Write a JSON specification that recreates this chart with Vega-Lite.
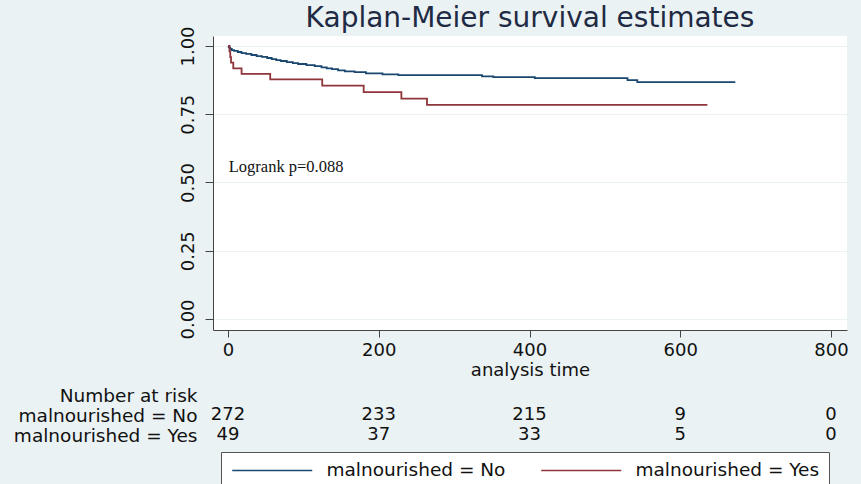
{
  "$schema": "https://vega.github.io/schema/vega-lite/v6.json",
  "background": "#eaf2f3",
  "padding": {"left": 13, "top": 4, "right": 13, "bottom": 0},
  "autosize": {"type": "pad"},
  "bounds": "flush",
  "spacing": 55,
  "config": {
    "view": {"fill": null, "stroke": null},
    "font": "DejaVu Sans",
    "axis": {"labelFont": "DejaVu Sans", "titleFont": "DejaVu Sans", "labelColor": "#111111", "titleColor": "#111111", "domainColor": "#444444", "tickColor": "#444444"}
  },
  "datasets": {
    "km": [
      {"group": "malnourished = No", "time": 0, "surv": 1.0},
      {"group": "malnourished = No", "time": 1, "surv": 0.996},
      {"group": "malnourished = No", "time": 2, "surv": 0.993},
      {"group": "malnourished = No", "time": 3, "surv": 0.989},
      {"group": "malnourished = No", "time": 5, "surv": 0.985},
      {"group": "malnourished = No", "time": 8, "surv": 0.982},
      {"group": "malnourished = No", "time": 13, "surv": 0.978},
      {"group": "malnourished = No", "time": 18, "surv": 0.974},
      {"group": "malnourished = No", "time": 24, "surv": 0.971},
      {"group": "malnourished = No", "time": 31, "surv": 0.967},
      {"group": "malnourished = No", "time": 38, "surv": 0.963},
      {"group": "malnourished = No", "time": 45, "surv": 0.96},
      {"group": "malnourished = No", "time": 52, "surv": 0.956},
      {"group": "malnourished = No", "time": 58, "surv": 0.952},
      {"group": "malnourished = No", "time": 64, "surv": 0.948},
      {"group": "malnourished = No", "time": 70, "surv": 0.945},
      {"group": "malnourished = No", "time": 78, "surv": 0.941},
      {"group": "malnourished = No", "time": 86, "surv": 0.937},
      {"group": "malnourished = No", "time": 93, "surv": 0.934},
      {"group": "malnourished = No", "time": 104, "surv": 0.93},
      {"group": "malnourished = No", "time": 115, "surv": 0.926},
      {"group": "malnourished = No", "time": 124, "surv": 0.922},
      {"group": "malnourished = No", "time": 131, "surv": 0.918},
      {"group": "malnourished = No", "time": 138, "surv": 0.915},
      {"group": "malnourished = No", "time": 146, "surv": 0.911},
      {"group": "malnourished = No", "time": 155, "surv": 0.907},
      {"group": "malnourished = No", "time": 168, "surv": 0.904},
      {"group": "malnourished = No", "time": 183, "surv": 0.9},
      {"group": "malnourished = No", "time": 205, "surv": 0.896},
      {"group": "malnourished = No", "time": 226, "surv": 0.893},
      {"group": "malnourished = No", "time": 337, "surv": 0.889},
      {"group": "malnourished = No", "time": 352, "surv": 0.886},
      {"group": "malnourished = No", "time": 407, "surv": 0.882},
      {"group": "malnourished = No", "time": 530, "surv": 0.875},
      {"group": "malnourished = No", "time": 543, "surv": 0.868},
      {"group": "malnourished = No", "time": 673, "surv": 0.868},
      {"group": "malnourished = Yes", "time": 0, "surv": 1.0},
      {"group": "malnourished = Yes", "time": 2, "surv": 0.98},
      {"group": "malnourished = Yes", "time": 3, "surv": 0.959},
      {"group": "malnourished = Yes", "time": 4, "surv": 0.939},
      {"group": "malnourished = Yes", "time": 7, "surv": 0.918},
      {"group": "malnourished = Yes", "time": 18, "surv": 0.898},
      {"group": "malnourished = Yes", "time": 56, "surv": 0.878},
      {"group": "malnourished = Yes", "time": 125, "surv": 0.855},
      {"group": "malnourished = Yes", "time": 180, "surv": 0.831},
      {"group": "malnourished = Yes", "time": 230, "surv": 0.807},
      {"group": "malnourished = Yes", "time": 264, "surv": 0.784},
      {"group": "malnourished = Yes", "time": 636, "surv": 0.784}
    ],
    "risk": [
      {"row": "malnourished = No", "time": 0, "n": 272},
      {"row": "malnourished = No", "time": 200, "n": 233},
      {"row": "malnourished = No", "time": 400, "n": 215},
      {"row": "malnourished = No", "time": 600, "n": 9},
      {"row": "malnourished = No", "time": 800, "n": 0},
      {"row": "malnourished = Yes", "time": 0, "n": 49},
      {"row": "malnourished = Yes", "time": 200, "n": 37},
      {"row": "malnourished = Yes", "time": 400, "n": 33},
      {"row": "malnourished = Yes", "time": 600, "n": 5},
      {"row": "malnourished = Yes", "time": 800, "n": 0}
    ]
  },
  "vconcat": [
    {
      "width": 634,
      "height": 294,
      "view": {"fill": "white", "stroke": null},
      "title": {"text": "Kaplan-Meier survival estimates", "fontSize": 28, "fontWeight": "normal", "color": "#1f2a44", "font": "DejaVu Sans", "frame": "group", "anchor": "middle", "offset": -7},
      "layer": [
        {
          "data": {"name": "km"},
          "mark": {"type": "line", "interpolate": "step-after", "strokeWidth": 1.8},
          "encoding": {
            "x": {"field": "time", "type": "quantitative", "scale": {"domain": [-19.9, 821.2], "nice": false, "zero": false},
                  "axis": {"values": [0, 200, 400, 600, 800], "title": "analysis time", "grid": false, "labelFontSize": 18, "titleFontSize": 18, "titleFontWeight": "normal", "tickSize": 7, "labelPadding": 4, "titlePadding": 2}},
            "y": {"field": "surv", "type": "quantitative", "scale": {"domain": [-0.0403, 1.0366], "nice": false, "zero": false},
                  "axis": {"values": [0, 0.25, 0.5, 0.75, 1], "format": ".2f", "title": null, "labelAngle": -90, "labelFontSize": 18, "tickSize": 8, "labelPadding": 8, "grid": true, "gridColor": "#eaf2f3"}},
            "color": {"field": "group", "type": "nominal",
                      "scale": {"domain": ["malnourished = No", "malnourished = Yes"], "range": ["#1a476f", "#90353b"]},
                      "legend": {"orient": "none", "legendX": 8, "legendY": 416, "direction": "horizontal", "title": null, "symbolType": "M-1.75,0H18.25", "symbolSize": 64, "symbolStrokeWidth": 1.5, "labelFontSize": 18.5, "labelFont": "DejaVu Sans", "labelColor": "#111111", "labelOffset": 78, "columnPadding": 32, "padding": 9, "strokeColor": "#555555", "fillColor": "white", "labelLimit": 0}}
          }
        },
        {
          "data": {"values": [{"time": 1, "surv": 0.557, "label": "Logrank p=0.088"}]},
          "mark": {"type": "text", "align": "left", "baseline": "middle", "font": "Liberation Serif", "fontSize": 16.5, "color": "#111111"},
          "encoding": {
            "x": {"field": "time", "type": "quantitative"},
            "y": {"field": "surv", "type": "quantitative"},
            "text": {"field": "label"}
          }
        }
      ]
    },
    {
      "width": 634,
      "height": 60,
      "data": {"name": "risk"},
      "mark": {"type": "text", "fontSize": 18, "font": "DejaVu Sans", "color": "#111111", "baseline": "middle"},
      "encoding": {
        "x": {"field": "time", "type": "quantitative", "scale": {"domain": [-19.9, 821.2], "nice": false, "zero": false}, "axis": null},
        "y": {"field": "row", "type": "nominal", "scale": {"domain": ["Number at risk", "malnourished = No", "malnourished = Yes"], "paddingInner": 0, "paddingOuter": 0},
              "axis": {"title": null, "domain": false, "ticks": false, "tickSize": 0, "labelPadding": 16, "labelFontSize": 18.5, "labelColor": "#111111", "labelAlign": "right", "labelFont": "DejaVu Sans", "labelLimit": 0}},
        "text": {"field": "n", "type": "quantitative"}
      }
    }
  ]
}
